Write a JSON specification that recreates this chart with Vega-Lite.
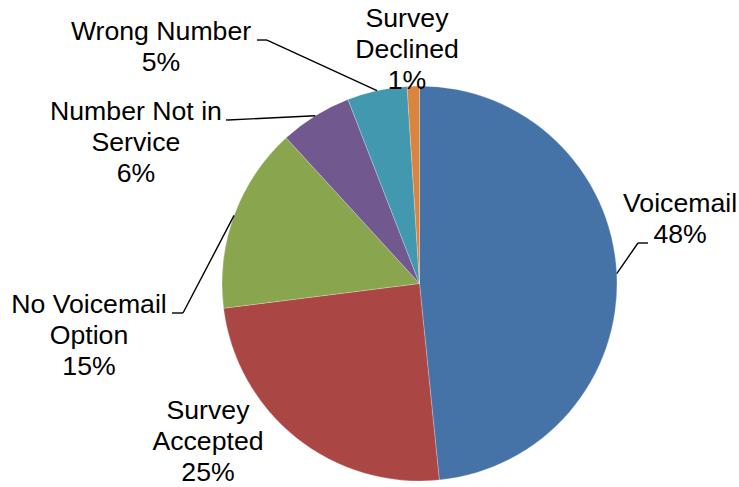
{
  "$schema": "https://vega.github.io/schema/vega-lite/v6.json",
  "width": 639,
  "height": 407,
  "autosize": {"type": "none"},
  "padding": {"left": 100, "top": 80, "right": 0, "bottom": 0},
  "background": "white",
  "config": {"view": {"stroke": null}, "text": {"font": "Liberation Sans"}},
  "data": {
    "values": [
      {"category": "Voicemail", "label": "Voicemail", "value": 48.4},
      {"category": "Survey Accepted", "label": "Survey\nAccepted", "value": 24.6},
      {"category": "No Voicemail Option", "label": "No Voicemail\nOption", "value": 15.2},
      {"category": "Number Not in Service", "label": "Number Not in\nService", "value": 5.9},
      {"category": "Wrong Number", "label": "Wrong Number", "value": 4.9},
      {"category": "Survey Declined", "label": "Survey\nDeclined", "value": 1.0}
    ]
  },
  "transform": [
    {"window": [{"op": "row_number", "as": "idx"}]},
    {"window": [{"op": "sum", "field": "value", "as": "v1"}], "sort": [{"field": "idx", "order": "ascending"}], "frame": [null, 0]},
    {"calculate": "datum.v1 - datum.value", "as": "v0"},
    {"calculate": "(datum.v0 + datum.v1) / 2", "as": "mid"},
    {"calculate": "datum.mid / 100 * 2 * PI", "as": "ang"},
    {"calculate": "197.5 * sin(datum.ang)", "as": "ex"},
    {"calculate": "197.5 * cos(datum.ang)", "as": "ey"},
    {"calculate": "datum.label + '\\n' + format(datum.value / 100, '.0%')", "as": "text"}
  ],
  "layer": [
    {
      "mark": {"type": "arc", "outerRadius": 197.5, "stroke": "white", "strokeWidth": 0.4, "strokeOpacity": 0.6},
      "encoding": {
        "theta": {"field": "v0", "type": "quantitative", "stack": null, "scale": {"domain": [0, 100]}},
        "theta2": {"field": "v1"},
        "color": {
          "field": "category",
          "type": "nominal",
          "legend": null,
          "scale": {
            "domain": ["Voicemail", "Survey Accepted", "No Voicemail Option", "Number Not in Service", "Wrong Number", "Survey Declined"],
            "range": ["#4572A7", "#AA4643", "#89A54E", "#71588F", "#4198AF", "#DB843D"]
          }
        }
      }
    },
    {
      "transform": [
        {"filter": "datum.category !== 'Survey Accepted' && datum.category !== 'Survey Declined'"},
        {"calculate": "datum.ex + (datum.category === 'Voicemail' ? 21.25 : datum.category === 'No Voicemail Option' ? -51.1 : datum.category === 'Number Not in Service' ? -87.3 : -110)", "as": "bx"},
        {"calculate": "datum.ey + (datum.category === 'Voicemail' ? 30.57 : datum.category === 'No Voicemail Option' ? -97.56 : datum.category === 'Number Not in Service' ? -4.2 : 50.6)", "as": "by"}
      ],
      "mark": {"type": "rule", "color": "black", "strokeWidth": 1.4},
      "encoding": {
        "x": {"field": "ex", "type": "quantitative", "axis": null, "scale": {"domain": [-319.5, 319.5], "nice": false, "zero": false}},
        "y": {"field": "ey", "type": "quantitative", "axis": null, "scale": {"domain": [-203.5, 203.5], "nice": false, "zero": false}},
        "x2": {"field": "bx"},
        "y2": {"field": "by"}
      }
    },
    {
      "transform": [
        {"filter": "datum.category !== 'Survey Accepted' && datum.category !== 'Survey Declined'"},
        {"calculate": "datum.ex + (datum.category === 'Voicemail' ? 21.25 : datum.category === 'No Voicemail Option' ? -51.1 : datum.category === 'Number Not in Service' ? -87.3 : -110)", "as": "bx"},
        {"calculate": "datum.ey + (datum.category === 'Voicemail' ? 30.57 : datum.category === 'No Voicemail Option' ? -97.56 : datum.category === 'Number Not in Service' ? -4.2 : 50.6)", "as": "by"},
        {"calculate": "datum.bx + (datum.category === 'Voicemail' ? 10 : datum.category === 'No Voicemail Option' ? -11 : datum.category === 'Number Not in Service' ? -2 : -10)", "as": "tx"}
      ],
      "mark": {"type": "rule", "color": "black", "strokeWidth": 1.4},
      "encoding": {
        "x": {"field": "bx", "type": "quantitative", "axis": null, "scale": {"domain": [-319.5, 319.5], "nice": false, "zero": false}},
        "y": {"field": "by", "type": "quantitative", "axis": null, "scale": {"domain": [-203.5, 203.5], "nice": false, "zero": false}},
        "x2": {"field": "tx"}
      }
    },
    {
      "transform": [
        {"calculate": "datum.ex + (datum.category === 'Voicemail' ? 63.3 : datum.category === 'Survey Accepted' ? -88.5 : datum.category === 'No Voicemail Option' ? -145.1 : datum.category === 'Number Not in Service' ? -179.3 : datum.category === 'Wrong Number' ? -216 : -6.3)", "as": "lx"},
        {"calculate": "datum.ey + (datum.category === 'Voicemail' ? 69.1 : datum.category === 'Survey Accepted' ? 26.7 : datum.category === 'No Voicemail Option' ? -89.6 : datum.category === 'Number Not in Service' ? 4 : datum.category === 'Wrong Number' ? 58.6 : 67.4)", "as": "ly"}
      ],
      "mark": {"type": "text", "font": "Liberation Sans", "fontSize": 26.67, "lineHeight": 31, "lineBreak": "\n", "align": "center", "baseline": "middle", "color": "black"},
      "encoding": {
        "x": {"field": "lx", "type": "quantitative", "axis": null, "scale": {"domain": [-319.5, 319.5], "nice": false, "zero": false}},
        "y": {"field": "ly", "type": "quantitative", "axis": null, "scale": {"domain": [-203.5, 203.5], "nice": false, "zero": false}},
        "text": {"field": "text"}
      }
    }
  ]
}
